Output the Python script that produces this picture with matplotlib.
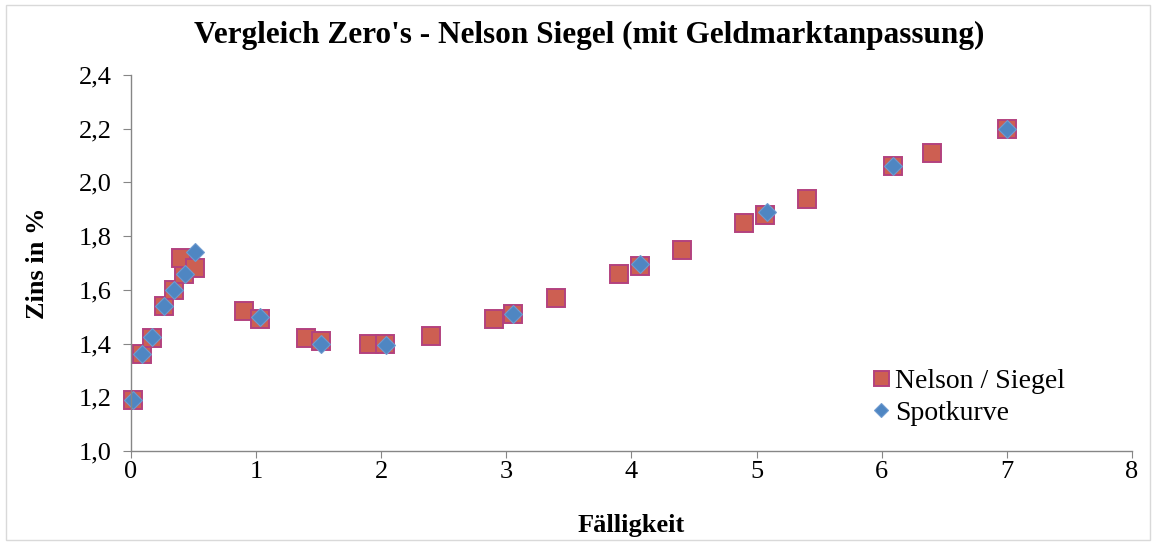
import matplotlib

matplotlib.use('Agg')
import matplotlib.pyplot as plt
from matplotlib.patches import Rectangle
from matplotlib.ticker import FuncFormatter

plt.rcParams['font.family'] = 'serif'
plt.rcParams['font.serif'] = ['Liberation Serif', 'DejaVu Serif']

# Nelson / Siegel curve (maturity in years, rate in %)
ns_maturity = [0.02, 0.085, 0.17, 0.26, 0.34, 0.42, 0.40, 0.51, 0.90, 1.03,
               1.40, 1.52, 1.90, 2.03, 2.40, 2.90, 3.05, 3.40, 3.90, 4.07,
               4.40, 4.90, 5.07, 5.40, 6.09, 6.40, 7.00]
ns_rate = [1.19, 1.36, 1.42, 1.54, 1.60, 1.66, 1.72, 1.68, 1.52, 1.49,
           1.42, 1.41, 1.40, 1.40, 1.43, 1.49, 1.51, 1.57, 1.66, 1.69,
           1.75, 1.85, 1.88, 1.94, 2.06, 2.11, 2.20]

# Spot curve
spot_maturity = [0.02, 0.085, 0.17, 0.26, 0.34, 0.43, 0.51, 1.03, 1.52,
                 2.035, 3.055, 4.07, 5.08, 6.09, 7.00]
spot_rate = [1.19, 1.36, 1.425, 1.54, 1.60, 1.66, 1.74, 1.50, 1.40,
             1.395, 1.51, 1.695, 1.89, 2.06, 2.20]

fig = plt.figure(figsize=(11.56, 5.43), dpi=100)
ax = fig.add_axes([0.1133, 0.1694, 0.8659, 0.6925])

# chart area border
fig.patches.append(Rectangle((0.005, 0.005), 0.99, 0.985, transform=fig.transFigure,
                             fill=False, edgecolor='#d9d9d9', linewidth=1))

ax.plot(ns_maturity, ns_rate, linestyle='none', marker='s', markersize=13.5,
        markerfacecolor='#cd5f52', markeredgecolor='#b3427f', markeredgewidth=1.4,
        label='Nelson / Siegel', clip_on=False)
ax.plot(spot_maturity, spot_rate, linestyle='none', marker='D', markersize=9.5,
        markerfacecolor='#4f86c2', markeredgecolor='#6f9bd0', markeredgewidth=0.8,
        label='Spotkurve', clip_on=False)

ax.set_xlim(0, 8)
ax.set_ylim(1.0, 2.4)
ax.set_xticks(range(0, 9))
ax.set_yticks([1.0, 1.2, 1.4, 1.6, 1.8, 2.0, 2.2, 2.4])
ax.yaxis.set_major_formatter(FuncFormatter(lambda v, p: f'{v:.1f}'.replace('.', ',')))

for side in ['top', 'right']:
    ax.spines[side].set_visible(False)
for side in ['left', 'bottom']:
    ax.spines[side].set_color('#868686')
    ax.spines[side].set_linewidth(1)
ax.tick_params(axis='both', direction='out', length=6, color='#868686',
               labelsize=19, colors='black')
ax.tick_params(axis='x', length=5, pad=2)
ax.tick_params(axis='y', pad=8)

fig.text(0.51, 0.935, "Vergleich Zero's - Nelson Siegel (mit Geldmarktanpassung)",
         fontsize=22.5, fontweight='bold', ha='center', va='center')
ax.set_xlabel('Fälligkeit', fontsize=19, fontweight='bold', va='center')
ax.set_ylabel('Zins in %', fontsize=19, fontweight='bold', va='center')
ax.xaxis.set_label_coords(0.5, -0.197)
ax.yaxis.set_label_coords(-0.093, 0.5)

ax.legend(loc='upper left', bbox_to_anchor=(0.726, 0.25), frameon=False,
          fontsize=20, handletextpad=0.05, borderaxespad=0, labelspacing=0.25,
          handlelength=0.9, markerscale=0.8)

fig.savefig('out.png', dpi=100, facecolor='white')
